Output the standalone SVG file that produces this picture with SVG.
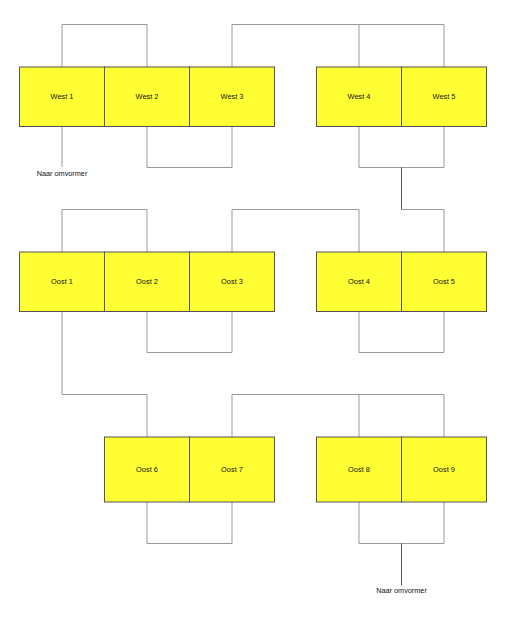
<svg xmlns="http://www.w3.org/2000/svg" width="505" height="622" viewBox="0 0 505 622">
<style>
.panel rect{fill:#ffff33;stroke:#555;stroke-width:1}
.panel text{font-family:"Liberation Sans",Arial,sans-serif;font-size:7.4px;fill:#111;text-anchor:middle;dominant-baseline:central}
.wire{fill:none;stroke:#999;stroke-width:1}
.wire.dark{stroke:#555}
.label{font-family:"Liberation Sans",Arial,sans-serif;font-size:7.3px;fill:#111;text-anchor:middle}
</style>
<rect width="505" height="622" fill="#fff"/>
<g id="connectors">
<path class="wire" d="M62,67V24.5H147V67"/>
<path class="wire" d="M232,67V24.5H444V67M359,24.5V67"/>
<path class="wire" d="M62,126.5V167"/>
<path class="wire" d="M147,126.5V167.5H232V126.5"/>
<path class="wire" d="M359,126.5V167.5H444V126.5"/>
<path class="wire dark" d="M401.5,167.5V209.5"/>
<path class="wire" d="M401.5,209.5H444V252"/>
<path class="wire" d="M62,252V209.5H147V252"/>
<path class="wire" d="M232,252V209.5H359V252"/>
<path class="wire" d="M147,311.5V352.5H232V311.5"/>
<path class="wire" d="M359,311.5V352.5H444V311.5"/>
<path class="wire" d="M62,311.5V394.5H147V437"/>
<path class="wire" d="M232,437V394.5H444V437M359,394.5V437"/>
<path class="wire" d="M147,502V543.5H232V502"/>
<path class="wire" d="M359,502V543.5H444V502"/>
<path class="wire dark" d="M401.5,543.5V585.5"/>
</g>
<g id="west1" class="panel"><rect x="19.5" y="67" width="85" height="59.5"/><text x="62" y="96.7">West 1</text></g>
<g id="west2" class="panel"><rect x="104.5" y="67" width="85" height="59.5"/><text x="147" y="96.7">West 2</text></g>
<g id="west3" class="panel"><rect x="189.5" y="67" width="85" height="59.5"/><text x="232" y="96.7">West 3</text></g>
<g id="west4" class="panel"><rect x="316.5" y="67" width="85" height="59.5"/><text x="359" y="96.7">West 4</text></g>
<g id="west5" class="panel"><rect x="401.5" y="67" width="85" height="59.5"/><text x="444" y="96.7">West 5</text></g>
<g id="oost1" class="panel"><rect x="19.5" y="252" width="85" height="59.5"/><text x="62" y="281.7">Oost 1</text></g>
<g id="oost2" class="panel"><rect x="104.5" y="252" width="85" height="59.5"/><text x="147" y="281.7">Oost 2</text></g>
<g id="oost3" class="panel"><rect x="189.5" y="252" width="85" height="59.5"/><text x="232" y="281.7">Oost 3</text></g>
<g id="oost4" class="panel"><rect x="316.5" y="252" width="85" height="59.5"/><text x="359" y="281.7">Oost 4</text></g>
<g id="oost5" class="panel"><rect x="401.5" y="252" width="85" height="59.5"/><text x="444" y="281.7">Oost 5</text></g>
<g id="oost6" class="panel"><rect x="104.5" y="437" width="85" height="65"/><text x="147" y="469.5">Oost 6</text></g>
<g id="oost7" class="panel"><rect x="189.5" y="437" width="85" height="65"/><text x="232" y="469.5">Oost 7</text></g>
<g id="oost8" class="panel"><rect x="316.5" y="437" width="85" height="65"/><text x="359" y="469.5">Oost 8</text></g>
<g id="oost9" class="panel"><rect x="401.5" y="437" width="85" height="65"/><text x="444" y="469.5">Oost 9</text></g>
<g id="label-west"><text class="label" x="62" y="176">Naar omvormer</text></g>
<g id="label-oost"><text class="label" x="401.5" y="593.3">Naar omvormer</text></g>
</svg>
